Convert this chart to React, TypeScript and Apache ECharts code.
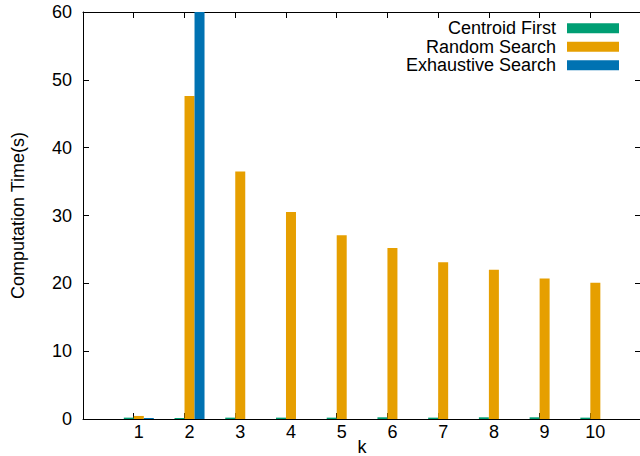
import React, { useEffect, useRef } from "react";
import * as echarts from "echarts";

const kValues = [1, 2, 3, 4, 5, 6, 7, 8, 9, 10];
const seriesNames = ["Centroid First", "Random Search", "Exhaustive Search"];
const centroidFirst = [0.2, 0.15, 0.2, 0.2, 0.2, 0.25, 0.2, 0.25, 0.25, 0.2];
const randomSearch = [0.45, 47.6, 36.5, 30.5, 27.1, 25.2, 23.1, 22.0, 20.7, 20.1];
const exhaustiveSearch: (number | null)[] = [0.15, 95, null, null, null, null, null, null, null, null];
const colors = ["#009e73", "#e69f00", "#0072b2"];
const yTicks = [0, 10, 20, 30, 40, 50, 60];

const FONT = "'Liberation Sans', Arial, sans-serif";

export default function App() {
  const ref = useRef<HTMLDivElement>(null);
  useEffect(() => {
    if (!ref.current) return;
    const chart = echarts.init(ref.current, null, { renderer: "svg" });
    const tickPos = kValues.map((k) => k - 0.1);
    const valuesList = [centroidFirst, randomSearch, exhaustiveSearch];
    const xBase = {
      type: "value" as const,
      min: -0.1,
      max: 10.9,
      splitLine: { show: false },
      axisLine: { show: true, onZero: false, lineStyle: { color: "#000", width: 1 } },
    };
    chart.setOption({
      animation: false,
      textStyle: { fontFamily: FONT },
      grid: {
        left: 83,
        top: 12,
        width: 558,
        height: 407,
        containLabel: false,
        outerBoundsMode: "none",
      },
      legend: {
        orient: "vertical",
        right: 21,
        top: 19,
        padding: 0,
        align: "right",
        itemWidth: 52,
        itemHeight: 10,
        itemGap: 0,
        icon: "rect",
        selectedMode: false,
        data: seriesNames,
        textStyle: { fontFamily: FONT, fontSize: 18, color: "#000", lineHeight: 18.5, padding: [0, 6, 0, 0] },
      },
      xAxis: [
        {
          ...xBase,
          position: "bottom",
          name: "k",
          nameLocation: "middle",
          nameGap: 19,
          nameMoveOverlap: false,
          nameTextStyle: { fontFamily: FONT, fontSize: 18, color: "#000", verticalAlign: "top" },
          axisTick: { show: true, inside: true, length: 6, customValues: tickPos, lineStyle: { color: "#000" } },
          axisLabel: { show: true, customValues: kValues, margin: 4, fontFamily: FONT, fontSize: 18, color: "#000" },
        },
        {
          ...xBase,
          position: "top",
          axisTick: { show: true, inside: true, length: 6, customValues: tickPos, lineStyle: { color: "#000" } },
          axisLabel: { show: false },
        },
      ],
      yAxis: [
        {
          type: "value",
          min: 0,
          max: 60,
          interval: 10,
          position: "left",
          name: "Computation Time(s)",
          nameLocation: "middle",
          nameGap: 56,
          nameRotate: 90,
          nameMoveOverlap: false,
          nameTextStyle: { fontFamily: FONT, fontSize: 18, color: "#000" },
          splitLine: { show: false },
          axisLine: { show: true, onZero: false, lineStyle: { color: "#000", width: 1 } },
          axisTick: { show: true, inside: true, length: 6, customValues: yTicks, lineStyle: { color: "#000" } },
          axisLabel: { customValues: yTicks, margin: 11, fontFamily: FONT, fontSize: 18, color: "#000" },
        },
        {
          type: "value",
          min: 0,
          max: 60,
          interval: 10,
          position: "right",
          splitLine: { show: false },
          axisLine: { show: true, onZero: false, lineStyle: { color: "#000", width: 1 } },
          axisTick: { show: true, inside: true, length: 6, lineStyle: { color: "#000" } },
          axisLabel: { show: false },
        },
      ],
      series: seriesNames.map((name, i) => ({
        name,
        type: "bar",
        xAxisIndex: 0,
        yAxisIndex: 0,
        barWidth: 10,
        barGap: "0%",
        clip: true,
        itemStyle: { color: colors[i] },
        data: kValues.map((k, j) => [k, valuesList[i][j]]),
      })),
    });
    return () => chart.dispose();
  }, []);
  return (
    <div
      ref={ref}
      style={{ position: "fixed", left: 0, top: 0, width: 640, height: 456, background: "#fff" }}
    />
  );
}
